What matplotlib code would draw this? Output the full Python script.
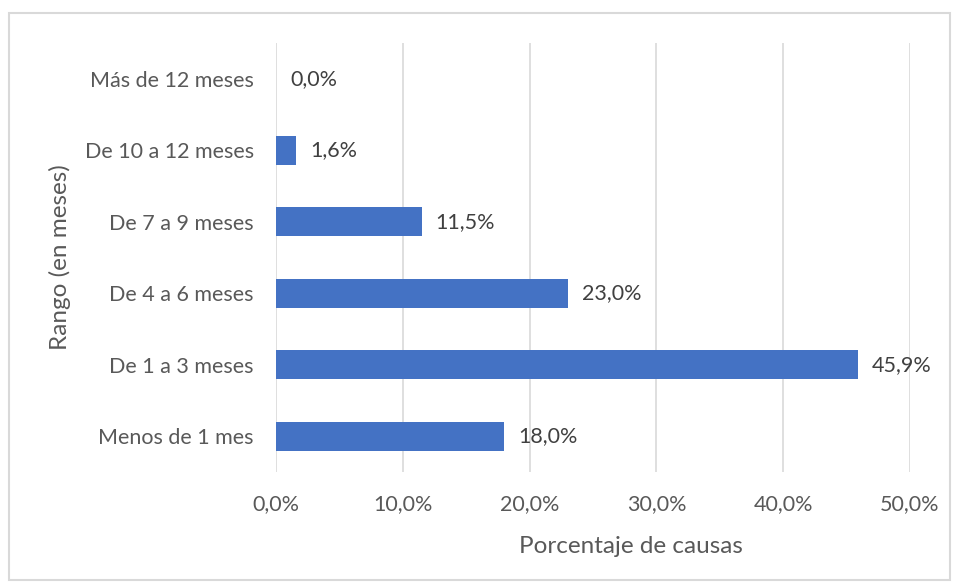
import matplotlib.pyplot as plt
from matplotlib.patches import Rectangle

plt.rcParams['font.family'] = ['Lato', 'DejaVu Sans']

rangos = ['Menos de 1 mes', 'De 1 a 3 meses', 'De 4 a 6 meses',
          'De 7 a 9 meses', 'De 10 a 12 meses', 'Más de 12 meses']
porcentajes = [18.0, 45.9, 23.0, 11.5, 1.6, 0.0]
x_ticks = [0, 10, 20, 30, 40, 50]

gris_texto = '#595959'
azul = '#4472C4'

fig = plt.figure(figsize=(9.56, 5.83), dpi=100)
# marco exterior del grafico
fig.patches.append(Rectangle((9 / 956, 3 / 583), 941 / 956, 567 / 583,
                             transform=fig.transFigure, fill=False,
                             edgecolor='#D9D9D9', linewidth=1.5))

ax = fig.add_axes([276 / 956, 1 - 472 / 583, 634 / 956, 429 / 583])
y = range(len(rangos))
ax.barh(y, porcentajes, height=0.4, color=azul, linewidth=0, zorder=3)

for yi, v in zip(y, porcentajes):
    ax.text(v + 1.1, yi, f'{v:.1f}%'.replace('.', ','), va='center',
            ha='left', fontsize=15.5, color='#404040')

ax.set_xlim(0, 50)
ax.set_ylim(-0.5, len(rangos) - 0.5)
ax.set_xticks(x_ticks)
ax.set_xticklabels([f'{t:.1f}%'.replace('.', ',') for t in x_ticks])
ax.set_yticks(list(y))
ax.set_yticklabels(rangos)
ax.tick_params(length=0, labelsize=15.5, labelcolor=gris_texto)
ax.tick_params(axis='x', pad=16)
ax.tick_params(axis='y', pad=16)
ax.grid(axis='x', color='#D9D9D9', linewidth=1.2, zorder=0)
for s in ax.spines.values():
    s.set_visible(False)

ax.set_xlabel('Porcentaje de causas', fontsize=17.5, color=gris_texto, labelpad=16)
ax.xaxis.label.set_x(0.56)  # en el original esta algo desplazado a la derecha
ax.set_ylabel('Rango (en meses)', fontsize=17.5, color=gris_texto, labelpad=10)

fig.savefig('out.png', dpi=100)
